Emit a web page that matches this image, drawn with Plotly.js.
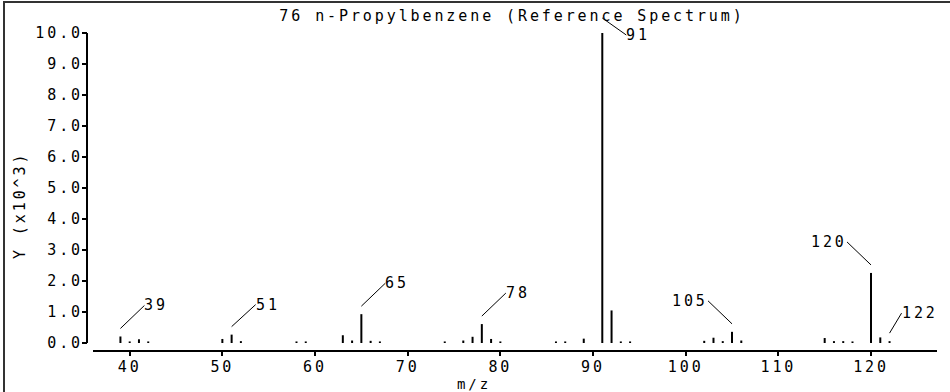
<!DOCTYPE html>
<html>
<head>
<meta charset="utf-8">
<script src="https://cdn.plot.ly/plotly-3.0.1.min.js"></script>
<style>
  html, body { margin: 0; padding: 0; background: #fff; }
  #wrap { position: relative; width: 950px; height: 392px; overflow: hidden; }
  #chart { position: absolute; left: 0; top: 0; width: 950px; height: 392px; }
  #frame { position: absolute; left: 3px; top: 1px; width: 947px; height: 391px;
           border-top: 2px solid #333; border-left: 2px solid #333; box-sizing: border-box; pointer-events: none; }
  svg text { letter-spacing: 2.9px; }
</style>
</head>
<body>
<div id="wrap">
  <div id="chart"></div>
  <div id="frame"></div>
</div>
<script>
// ---- data (intensity in units of 10^3) ----
const chartTitle = "76 n-Propylbenzene (Reference Spectrum)";
const xTitle = "m/z";
const yTitle = "Y (x10^3)";
const mz = [39, 40, 41, 42, 50, 51, 52, 58, 59, 63, 64, 65, 66, 67,
            74, 76, 77, 78, 79, 80, 86, 87, 89, 91, 92, 93, 94,
            102, 103, 104, 105, 106, 115, 116, 117, 118, 120, 121, 122];
const intensity = [0.21, 0.05, 0.12, 0.05, 0.13, 0.27, 0.06, 0.05, 0.05, 0.25, 0.08, 0.93, 0.07, 0.05,
                   0.05, 0.08, 0.20, 0.61, 0.13, 0.05, 0.05, 0.05, 0.14, 10.0, 1.05, 0.05, 0.05,
                   0.07, 0.17, 0.06, 0.36, 0.08, 0.16, 0.06, 0.06, 0.05, 2.26, 0.18, 0.06];
const labeledPeaks = [39, 51, 65, 78, 91, 105, 120, 122];
const xTickVals = [40, 50, 60, 70, 80, 90, 100, 110, 120];
const yTickVals = [0, 1, 2, 3, 4, 5, 6, 7, 8, 9, 10];

// ---- label placement (styling: pixel offsets of label relative to peak) ----
const labelStyle = {
  39:  {ax: 24, ay: -23, xanchor: 'left', yshift: 8},
  51:  {ax: 24, ay: -22, xanchor: 'left', yshift: 8},
  65:  {ax: 24, ay: -23, xanchor: 'left', yshift: 8},
  78:  {ax: 24, ay: -23, xanchor: 'left', yshift: 8},
  91:  {ax: 24, ay: 17,  xanchor: 'left', yshift: 15},
  105: {ax: -24, ay: -23, xanchor: 'right', yshift: 8},
  120: {ax: -24, ay: -23, xanchor: 'right', yshift: 8},
  122: {ax: 12, ay: -20, xanchor: 'left', yshift: 8}
};

const FONT = "DejaVu Sans Mono";
const fnt = {family: FONT, size: 15, color: '#000'};

// build stick segments from data
const xs = [], ys = [];
mz.forEach((m, i) => { xs.push(m, m, null); ys.push(0, intensity[i], null); });

const sticks = {
  type: 'scatter', mode: 'lines', x: xs, y: ys,
  line: {color: '#000', width: 2}, hoverinfo: 'skip', showlegend: false
};

const annotations = labeledPeaks.map(p => {
  const i = mz.indexOf(p);
  const s = labelStyle[p];
  return {
    x: p, y: intensity[i], xref: 'x', yref: 'y',
    text: String(p), showarrow: true, arrowhead: 0, arrowwidth: 1, arrowcolor: '#000',
    ax: s.ax, ay: s.ay, axref: 'pixel', ayref: 'pixel',
    xanchor: s.xanchor, yanchor: 'middle', yshift: s.yshift,
    borderpad: 0, borderwidth: 0, standoff: 0, font: fnt
  };
});

// axis titles as annotations
annotations.push({
  xref: 'paper', yref: 'paper', x: (474 - 87) / 850, y: -(392 - 350) / 317,
  text: xTitle, showarrow: false, xanchor: 'center', yanchor: 'bottom',
  borderpad: 0, borderwidth: 0, font: {family: FONT, size: 14, color: '#000'}
});
annotations.push({
  xref: 'paper', yref: 'paper', x: (20 - 87) / 850, y: (350 - 206) / 317,
  text: yTitle, showarrow: false, textangle: -90, xanchor: 'center', yanchor: 'middle', font: fnt
});

const layout = {
  width: 950, height: 392,
  margin: {l: 87, r: 13, t: 33, b: 42, pad: 0},
  paper_bgcolor: '#fff', plot_bgcolor: '#fff',
  title: {text: chartTitle, font: fnt, xref: 'paper', x: 0.5, xanchor: 'center',
          yref: 'container', y: 1 - 16 / 392, yanchor: 'middle'},
  xaxis: {
    domain: [6 / 850, 1], range: [36.04, 127.12],
    tickmode: 'array', tickvals: xTickVals, ticktext: xTickVals.map(String),
    ticks: 'outside', ticklen: 4, tickwidth: 2, tickcolor: '#000', ticklabelstandoff: -2,
    showline: true, linewidth: 2, linecolor: '#000',
    showgrid: false, zeroline: false, tickfont: fnt, fixedrange: true
  },
  yaxis: {
    anchor: 'free', position: 0, range: [-0.226, 10],
    tickmode: 'array', tickvals: yTickVals, ticktext: yTickVals.map(v => v.toFixed(1)),
    ticks: 'outside', ticklen: 5, tickwidth: 2, tickcolor: '#000', ticklabelstandoff: -4,
    showline: false, showgrid: false, zeroline: false, tickfont: fnt, fixedrange: true
  },
  shapes: [{
    type: 'line', xref: 'paper', yref: 'y', x0: 0, x1: 0,
    y0: yTickVals[0], y1: yTickVals[yTickVals.length - 1],
    line: {color: '#000', width: 2}
  }],
  annotations: annotations,
  showlegend: false
};

Plotly.newPlot('chart', [sticks], layout, {displayModeBar: false, staticPlot: true});
</script>
</body>
</html>
